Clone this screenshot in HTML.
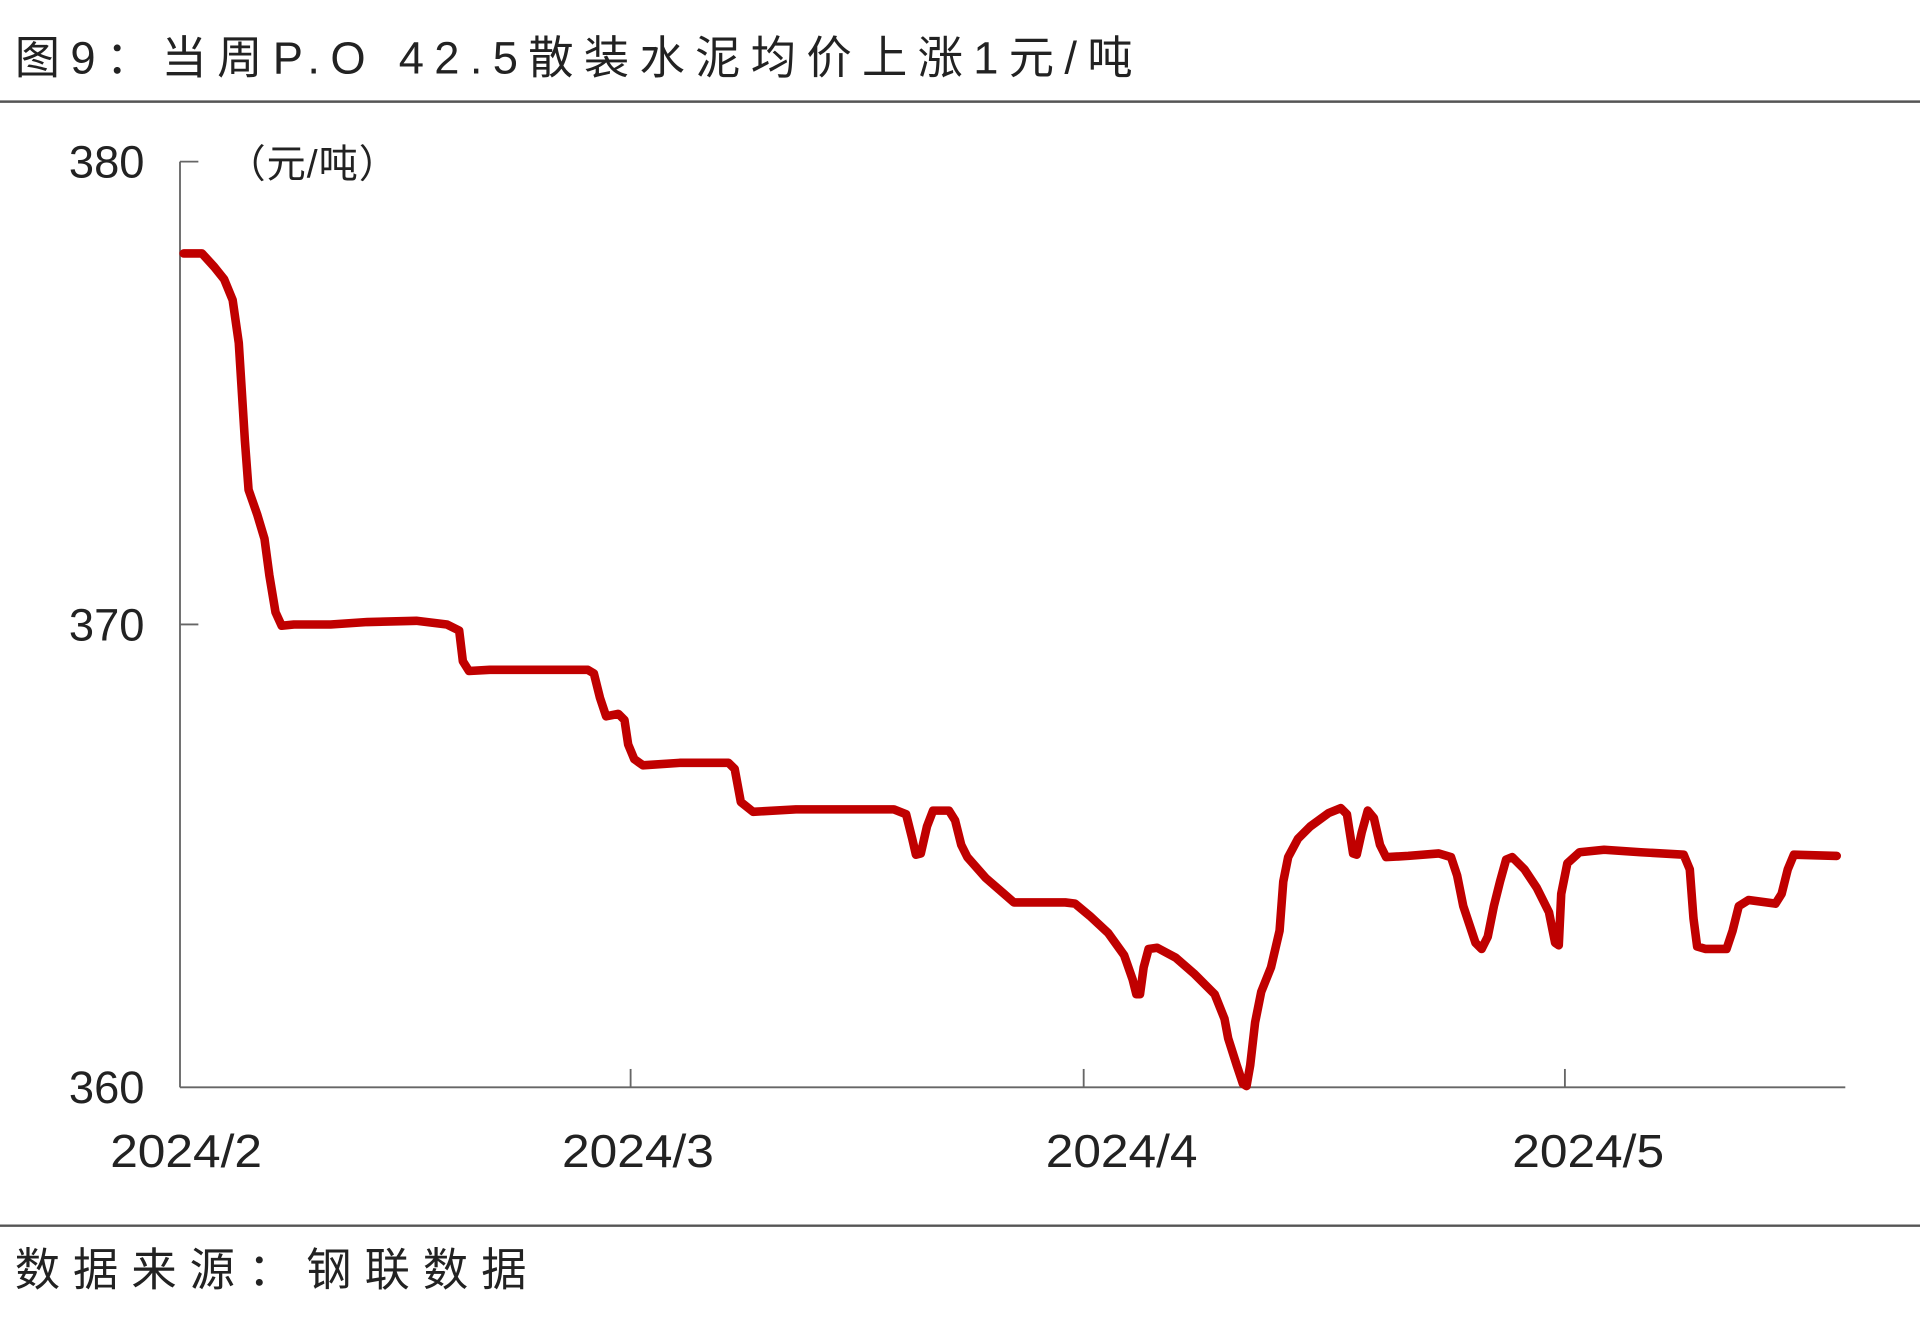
<!DOCTYPE html>
<html><head><meta charset="utf-8"><style>
html,body{margin:0;padding:0;background:#fff;width:1920px;height:1331px;overflow:hidden}
svg{display:block}
text{font-family:"Liberation Sans","Noto Sans CJK SC",sans-serif;fill:#222}
</style></head><body>
<svg width="1920" height="1331" viewBox="0 0 1568 1087" preserveAspectRatio="none" xmlns="http://www.w3.org/2000/svg">
<text x="12" y="60" font-size="37" textLength="913" lengthAdjust="spacing" font-family="'Noto Sans CJK SC',sans-serif">图9：当周P.O 42.5散装水泥均价上涨1元/吨</text>
<line x1="0" y1="83" x2="1568" y2="83" stroke="#555" stroke-width="2"/>
<line x1="0" y1="1001" x2="1568" y2="1001" stroke="#555" stroke-width="2"/>
<text x="12" y="1050" font-size="37" textLength="418" lengthAdjust="spacing" font-family="'Noto Sans CJK SC',sans-serif">数据来源：钢联数据</text>
<line x1="147" y1="132" x2="147" y2="888" stroke="#666" stroke-width="1.5"/>
<line x1="147" y1="888" x2="1507" y2="888" stroke="#666" stroke-width="1.5"/>
<line x1="147" y1="132" x2="162" y2="132" stroke="#666" stroke-width="1.5"/>
<line x1="147" y1="510" x2="162" y2="510" stroke="#666" stroke-width="1.5"/>
<line x1="515" y1="873" x2="515" y2="888" stroke="#666" stroke-width="1.5"/>
<line x1="885" y1="873" x2="885" y2="888" stroke="#666" stroke-width="1.5"/>
<line x1="1278" y1="873" x2="1278" y2="888" stroke="#666" stroke-width="1.5"/>
<text x="118" y="145" font-size="37" text-anchor="end">380</text>
<text x="118" y="523" font-size="37" text-anchor="end">370</text>
<text x="118" y="901" font-size="37" text-anchor="end">360</text>
<text x="185" y="145" font-size="32" textLength="140" lengthAdjust="spacing" font-family="'Noto Sans CJK SC',sans-serif">（元/吨）</text>
<text x="152" y="953" font-size="38" text-anchor="middle" textLength="124" lengthAdjust="spacingAndGlyphs">2024/2</text>
<text x="521" y="953" font-size="38" text-anchor="middle" textLength="124" lengthAdjust="spacingAndGlyphs">2024/3</text>
<text x="916" y="953" font-size="38" text-anchor="middle" textLength="124" lengthAdjust="spacingAndGlyphs">2024/4</text>
<text x="1297" y="953" font-size="38" text-anchor="middle" textLength="124" lengthAdjust="spacingAndGlyphs">2024/5</text>
<polyline fill="none" stroke="#c00000" stroke-width="7" stroke-linejoin="round" stroke-linecap="round" points="150,207 165,207 175,218 183,228 190,245 195,280 200,360 203,400 210,420 216,440 220,470 225,500 230,511 240,510 270,510 300,508 340,507 365,510 375,515 378,540 383,548 400,547 480,547 485,550 490,570 495,585 505,583 510,588 513,608 518,620 525,625 555,623 595,623 600,628 605,655 615,663 650,661 730,661 740,665 745,685 748,698 752,697 757,675 762,662 775,662 780,670 785,690 790,700 805,717 820,730 828,737 870,737 878,738 890,748 905,762 918,780 925,800 928,812 931,812 934,790 938,775 945,774 960,782 975,795 992,812 1000,832 1003,848 1010,870 1015,885 1018,887 1021,870 1025,835 1030,810 1038,790 1045,760 1048,720 1052,700 1060,685 1070,675 1085,664 1095,660 1100,665 1105,697 1108,698 1112,680 1117,662 1122,668 1127,690 1132,700 1150,699 1175,697 1185,700 1190,715 1195,740 1200,755 1205,770 1210,775 1215,765 1220,740 1225,720 1230,702 1235,700 1245,710 1255,725 1265,745 1270,770 1273,772 1275,730 1280,705 1290,696 1310,694 1340,696 1375,698 1380,710 1383,750 1386,773 1393,775 1410,775 1415,760 1420,740 1428,735 1450,738 1455,730 1460,710 1465,698 1500,699"/>
</svg>
</body></html>
